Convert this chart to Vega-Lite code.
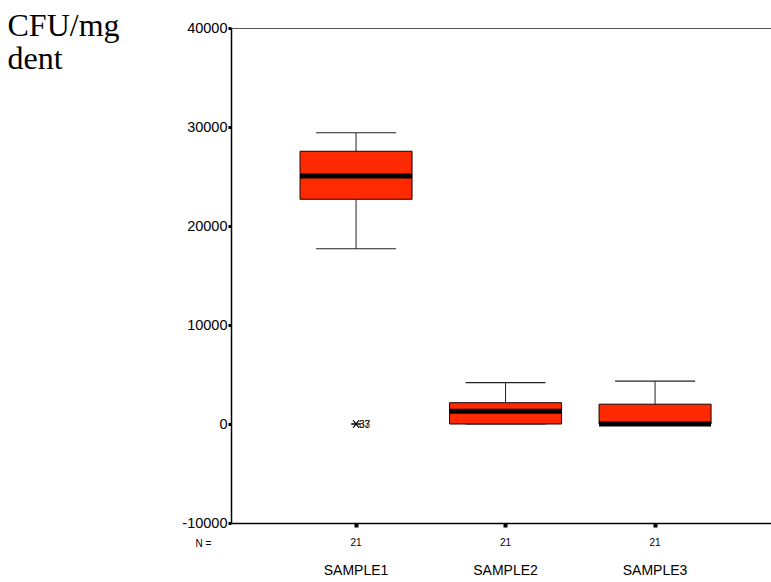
{
  "$schema": "https://vega.github.io/schema/vega-lite/v6.json",
  "autosize": "none",
  "width": 540,
  "height": 495,
  "padding": {"left": 231, "top": 28, "right": 0, "bottom": 59},
  "background": "white",
  "config": {
    "view": {"stroke": "#555555", "strokeWidth": 1},
    "font": "Liberation Sans"
  },
  "datasets": {
    "boxes": [
      {"sample": "SAMPLE1", "lower": 17700, "q1": 22700, "median": 25050, "q3": 27550, "upper": 29420, "n": 21},
      {"sample": "SAMPLE2", "lower": 0, "q1": 0, "median": 1300, "q3": 2150, "upper": 4170, "n": 21},
      {"sample": "SAMPLE3", "lower": 0, "q1": 0, "median": 0, "q3": 2000, "upper": 4340, "n": 21}
    ],
    "outliers": [
      {"sample": "SAMPLE1", "value": 0, "case": "37"},
      {"sample": "SAMPLE1", "value": 0, "case": "33"}
    ]
  },
  "resolve": {"axis": {"x": "independent"}},
  "layer": [
    {
      "data": {"name": "boxes"},
      "mark": {"type": "rule", "color": "#222222", "strokeWidth": 1},
      "encoding": {
        "x": {
          "field": "sample", "type": "nominal",
          "scale": {"type": "band", "domain": ["SAMPLE1", "SAMPLE2", "SAMPLE3"], "paddingInner": 0.26, "paddingOuter": 0.436, "align": 0.535},
          "axis": {
            "orient": "bottom",
            "title": "N =",
            "titleFont": "Liberation Sans",
            "titleFontSize": 10,
            "titleFontWeight": "normal",
            "titleColor": "black",
            "titleAngle": 0,
            "titleAlign": "left",
            "titleBaseline": "middle",
            "titleX": -36,
            "titleY": 20,
            "labelExpr": "'21'",
            "labelAngle": 0,
            "labelFontSize": 10,
            "labelColor": "black",
            "labelPadding": 10,
            "domainColor": "black",
            "domainWidth": 1.5,
            "tickColor": "black",
            "tickSize": 4,
            "tickWidth": 4,
            "grid": false
          }
        },
        "y": {
          "field": "lower", "type": "quantitative",
          "scale": {"domain": [-10000, 40000], "nice": false, "zero": false},
          "axis": {
            "values": [-10000, 0, 10000, 20000, 30000, 40000],
            "labelExpr": "'' + datum.value",
            "grid": false,
            "domainColor": "black",
            "domainWidth": 1.5,
            "tickColor": "black",
            "tickSize": 3,
            "tickWidth": 3,
            "labelFontSize": 14.5,
            "labelColor": "black",
            "labelPadding": 1,
            "title": ["CFU/mg", "dent"],
            "titleFont": "Liberation Serif",
            "titleFontSize": 32,
            "titleFontWeight": "normal",
            "titleColor": "black",
            "titleAngle": 0,
            "titleAlign": "left",
            "titleBaseline": "alphabetic",
            "titleLineHeight": 33,
            "titleX": -224,
            "titleY": 7
          }
        },
        "y2": {"field": "q1"}
      }
    },
    {
      "data": {"name": "boxes"},
      "mark": {"type": "rule", "color": "#222222", "strokeWidth": 1},
      "encoding": {
        "x": {
          "field": "sample", "type": "nominal",
          "axis": {
            "orient": "bottom",
            "title": null,
            "labelAngle": 0,
            "labelFontSize": 14,
            "labelColor": "black",
            "labelPadding": 40,
            "domain": false,
            "ticks": false,
            "grid": false
          }
        },
        "y": {"field": "q3", "type": "quantitative"},
        "y2": {"field": "upper"}
      }
    },
    {
      "data": {"name": "boxes"},
      "mark": {"type": "tick", "color": "#222222", "thickness": 1.2, "size": 80, "opacity": 1},
      "encoding": {
        "x": {"field": "sample", "type": "nominal", "axis": null},
        "y": {"field": "upper", "type": "quantitative"}
      }
    },
    {
      "data": {"name": "boxes"},
      "mark": {"type": "tick", "color": "#222222", "thickness": 1.2, "size": 80, "opacity": 1},
      "encoding": {
        "x": {"field": "sample", "type": "nominal", "axis": null},
        "y": {"field": "lower", "type": "quantitative"}
      }
    },
    {
      "data": {"name": "boxes"},
      "mark": {"type": "bar", "width": 112, "fill": "#ff2a00", "stroke": "#1a0000", "strokeWidth": 1, "opacity": 1},
      "encoding": {
        "x": {"field": "sample", "type": "nominal", "axis": null},
        "y": {"field": "q1", "type": "quantitative"},
        "y2": {"field": "q3"}
      }
    },
    {
      "data": {"name": "boxes"},
      "mark": {"type": "tick", "color": "black", "thickness": 5, "size": 112, "opacity": 1},
      "encoding": {
        "x": {"field": "sample", "type": "nominal", "axis": null},
        "y": {"field": "median", "type": "quantitative"}
      }
    },
    {
      "data": {"name": "outliers"},
      "mark": {"type": "point", "shape": "M-1,0L1,0M-0.6,-0.8L0.6,0.8M-0.6,0.8L0.6,-0.8", "size": 90, "stroke": "black", "strokeWidth": 1, "filled": false, "opacity": 1},
      "encoding": {
        "x": {"field": "sample", "type": "nominal", "axis": null},
        "y": {"field": "value", "type": "quantitative"}
      }
    },
    {
      "data": {"name": "outliers"},
      "mark": {"type": "text", "align": "left", "baseline": "middle", "dx": 3, "dy": 1, "fontSize": 10, "color": "#222222"},
      "encoding": {
        "x": {"field": "sample", "type": "nominal", "axis": null},
        "y": {"field": "value", "type": "quantitative"},
        "text": {"field": "case"}
      }
    }
  ]
}
